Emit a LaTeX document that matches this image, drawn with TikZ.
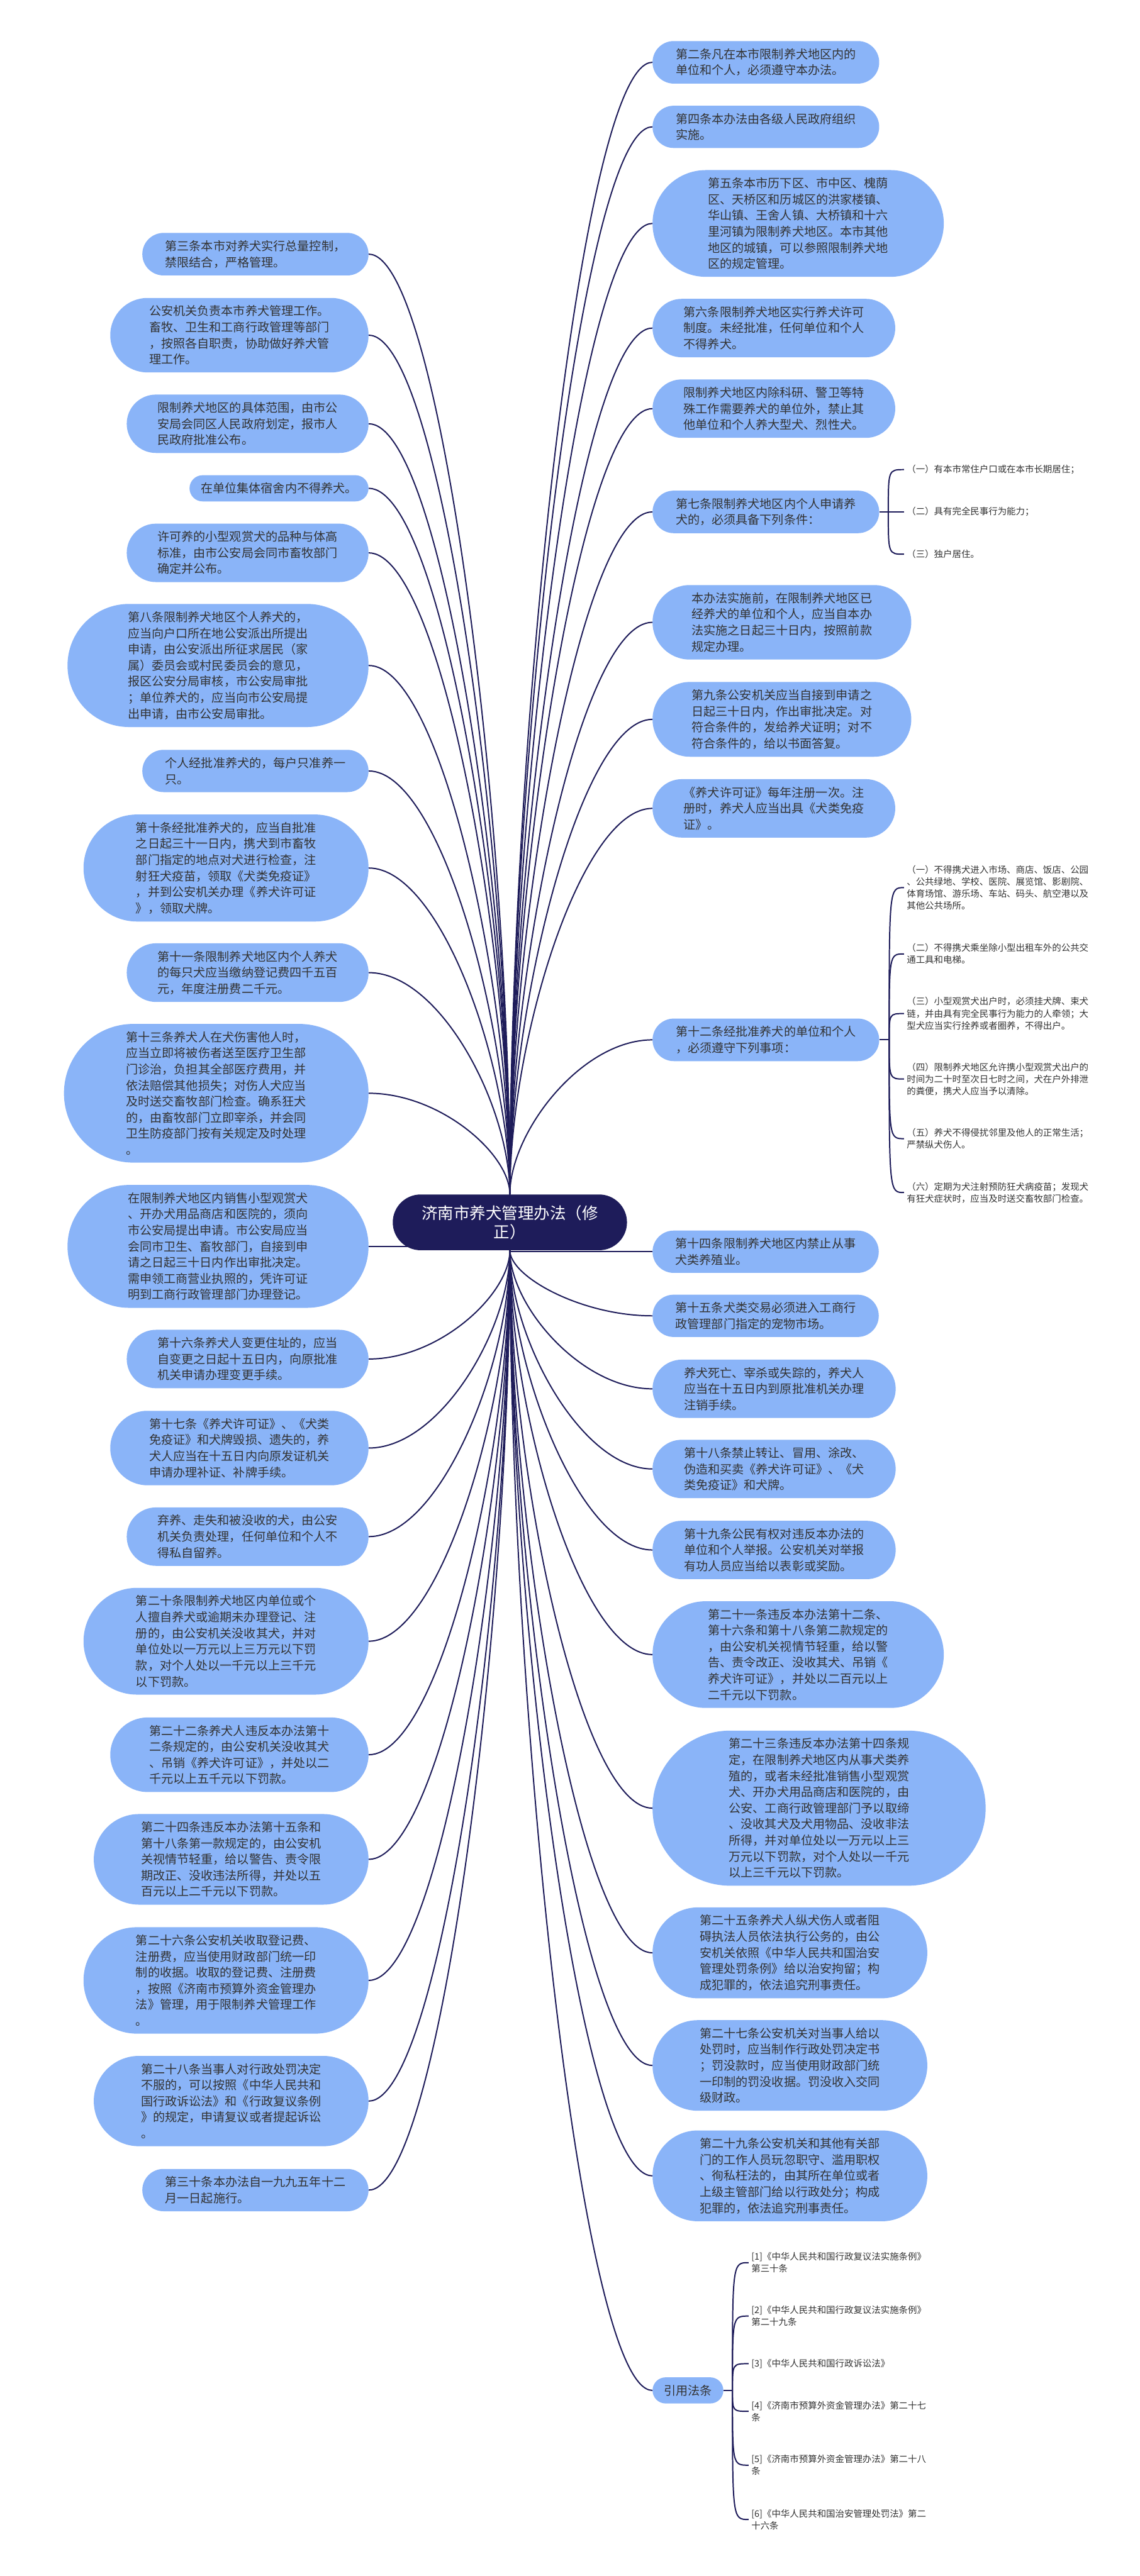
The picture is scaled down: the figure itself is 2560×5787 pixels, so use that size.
\documentclass[tikz,border=0pt]{standalone}
\usepackage{fontspec}
\setmainfont{Noto Sans CJK SC}
\usetikzlibrary{shapes.misc,backgrounds,calc}
\definecolor{navyx}{HTML}{1E1C5A}
\definecolor{leafx}{HTML}{8AB4F8}
\definecolor{inkx}{HTML}{333333}
\tikzset{
  hub/.style={rounded rectangle,fill=navyx,text=white,align=center,font=\fontsize{18}{21.5}\selectfont,inner xsep=6pt,inner ysep=12pt,minimum width=275pt},
  leaf/.style={rounded rectangle,fill=leafx,text=inkx,align=left,font=\fontsize{13.5}{18.1}\selectfont,inner xsep=3pt,inner ysep=8.4pt},
  lf/.style={leaf,anchor=east,minimum width=#1},
  rt/.style={leaf,anchor=west,minimum width=#1},
  clause/.style={anchor=west,align=left,text=inkx,font=\fontsize{10.2}{13.5}\selectfont,inner sep=3pt},
  link/.style={draw=navyx,line width=1.4pt}
}

\begin{document}
\begin{tikzpicture}[x=0.5pt,y=0.5pt]
\useasboundingbox (0,0) rectangle (2560,-5787);

\node[hub] (root) at (1145,-2746) {济南市养犬管理办法（修\\正）};

% left branch
\node[lf=260pt] (l1) at (828,-571) {第三条本市对养犬实行总量控制，\\禁限结合，严格管理。};
\node[lf=296pt] (l2) at (828,-753) {公安机关负责本市养犬管理工作。\\畜牧、卫生和工商行政管理等部门\\，按照各自职责，协助做好养犬管\\理工作。};
\node[lf=277.5pt] (l3) at (828,-952) {限制养犬地区的具体范围，由市公\\安局会同区人民政府划定，报市人\\民政府批准公布。};
\node[lf=207pt] (l4) at (828,-1097) {在单位集体宿舍内不得养犬。};
\node[lf=277.5pt] (l5) at (828,-1242) {许可养的小型观赏犬的品种与体高\\标准，由市公安局会同市畜牧部门\\确定并公布。};
\node[lf=344pt] (l6) at (828,-1495) {第八条限制养犬地区个人养犬的，\\应当向户口所在地公安派出所提出\\申请，由公安派出所征求居民（家\\属）委员会或村民委员会的意见，\\报区公安分局审核，市公安局审批\\；单位养犬的，应当向市公安局提\\出申请，由市公安局审批。};
\node[lf=260pt] (l7) at (828,-1732) {个人经批准养犬的，每户只准养一\\只。};
\node[lf=326pt] (l8) at (828,-1950) {第十条经批准养犬的，应当自批准\\之日起三十一日内，携犬到市畜牧\\部门指定的地点对犬进行检查，注\\射狂犬疫苗，领取《犬类免疫证》\\，并到公安机关办理《养犬许可证\\》，领取犬牌。};
\node[lf=277.5pt] (l9) at (828,-2185) {第十一条限制养犬地区内个人养犬\\的每只犬应当缴纳登记费四千五百\\元，年度注册费二千元。};
\node[lf=348pt] (l10) at (828,-2456) {第十三条养犬人在犬伤害他人时，\\应当立即将被伤者送至医疗卫生部\\门诊治，负担其全部医疗费用，并\\依法赔偿其他损失；对伤人犬应当\\及时送交畜牧部门检查。确系狂犬\\的，由畜牧部门立即宰杀，并会同\\卫生防疫部门按有关规定及时处理\\。};
\node[lf=344pt] (l11) at (828,-2800) {在限制养犬地区内销售小型观赏犬\\、开办犬用品商店和医院的，须向\\市公安局提出申请。市公安局应当\\会同市卫生、畜牧部门，自接到申\\请之日起三十日内作出审批决定。\\需申领工商营业执照的，凭许可证\\明到工商行政管理部门办理登记。};
\node[lf=277.5pt] (l12) at (828,-3053) {第十六条养犬人变更住址的，应当\\自变更之日起十五日内，向原批准\\机关申请办理变更手续。};
\node[lf=296pt] (l13) at (828,-3253) {第十七条《养犬许可证》、《犬类\\免疫证》和犬牌毁损、遗失的，养\\犬人应当在十五日内向原发证机关\\申请办理补证、补牌手续。};
\node[lf=277.5pt] (l14) at (828,-3452) {弃养、走失和被没收的犬，由公安\\机关负责处理，任何单位和个人不\\得私自留养。};
\node[lf=326pt] (l15) at (828,-3687) {第二十条限制养犬地区内单位或个\\人擅自养犬或逾期未办理登记、注\\册的，由公安机关没收其犬，并对\\单位处以一万元以上三万元以下罚\\款，对个人处以一千元以上三千元\\以下罚款。};
\node[lf=296pt] (l16) at (828,-3942) {第二十二条养犬人违反本办法第十\\二条规定的，由公安机关没收其犬\\、吊销《养犬许可证》，并处以二\\千元以上五千元以下罚款。};
\node[lf=314.5pt] (l17) at (828,-4177) {第二十四条违反本办法第十五条和\\第十八条第一款规定的，由公安机\\关视情节轻重，给以警告、责令限\\期改正、没收违法所得，并处以五\\百元以上二千元以下罚款。};
\node[lf=326pt] (l18) at (828,-4449) {第二十六条公安机关收取登记费、\\注册费，应当使用财政部门统一印\\制的收据。收取的登记费、注册费\\，按照《济南市预算外资金管理办\\法》管理，用于限制养犬管理工作\\。};
\node[lf=314.5pt] (l19) at (828,-4720) {第二十八条当事人对行政处罚决定\\不服的，可以按照《中华人民共和\\国行政诉讼法》和《行政复议条例\\》的规定，申请复议或者提起诉讼\\。};
\node[lf=260pt] (l20) at (828,-4920) {第三十条本办法自一九九五年十二\\月一日起施行。};

% right branch
\node[rt=260.5pt] (r1) at (1465,-140) {第二条凡在本市限制养犬地区内的\\单位和个人，必须遵守本办法。};
\node[rt=260.5pt] (r2) at (1465,-285) {第四条本办法由各级人民政府组织\\实施。};
\node[rt=333pt] (r3) at (1465,-502) {第五条本市历下区、市中区、槐荫\\区、天桥区和历城区的洪家楼镇、\\华山镇、王舍人镇、大桥镇和十六\\里河镇为限制养犬地区。本市其他\\地区的城镇，可以参照限制养犬地\\区的规定管理。};
\node[rt=278.5pt] (r4) at (1465,-737) {第六条限制养犬地区实行养犬许可\\制度。未经批准，任何单位和个人\\不得养犬。};
\node[rt=278.5pt] (r5) at (1465,-918) {限制养犬地区内除科研、警卫等特\\殊工作需要养犬的单位外，禁止其\\他单位和个人养大型犬、烈性犬。};
\node[rt=260.5pt] (r6) at (1465,-1150) {第七条限制养犬地区内个人申请养\\犬的，必须具备下列条件：};
\node[rt=296.5pt] (r7) at (1465,-1398) {本办法实施前，在限制养犬地区已\\经养犬的单位和个人，应当自本办\\法实施之日起三十日内，按照前款\\规定办理。};
\node[rt=296.5pt] (r8) at (1465,-1616) {第九条公安机关应当自接到申请之\\日起三十日内，作出审批决定。对\\符合条件的，发给养犬证明；对不\\符合条件的，给以书面答复。};
\node[rt=278.5pt] (r9) at (1465,-1816) {《养犬许可证》每年注册一次。注\\册时，养犬人应当出具《犬类免疫\\证》。};
\node[rt=260.5pt] (r10) at (1465,-2336) {第十二条经批准养犬的单位和个人\\，必须遵守下列事项：};
\node[rt=260pt] (r11) at (1465,-2812) {第十四条限制养犬地区内禁止从事\\犬类养殖业。};
\node[rt=260pt] (r12) at (1465,-2956) {第十五条犬类交易必须进入工商行\\政管理部门指定的宠物市场。};
\node[rt=279pt] (r13) at (1465,-3120) {养犬死亡、宰杀或失踪的，养犬人\\应当在十五日内到原批准机关办理\\注销手续。};
\node[rt=279pt] (r14) at (1465,-3300) {第十八条禁止转让、冒用、涂改、\\伪造和买卖《养犬许可证》、《犬\\类免疫证》和犬牌。};
\node[rt=279pt] (r15) at (1465,-3482) {第十九条公民有权对违反本办法的\\单位和个人举报。公安机关对举报\\有功人员应当给以表彰或奖励。};
\node[rt=333pt] (r16) at (1465,-3717) {第二十一条违反本办法第十二条、\\第十六条和第十八条第二款规定的\\，由公安机关视情节轻重，给以警\\告、责令改正、没收其犬、吊销《\\养犬许可证》，并处以二百元以上\\二千元以下罚款。};
\node[rt=380pt] (r17) at (1465,-4062) {第二十三条违反本办法第十四条规\\定，在限制养犬地区内从事犬类养\\殖的，或者未经批准销售小型观赏\\犬、开办犬用品商店和医院的，由\\公安、工商行政管理部门予以取缔\\、没收其犬及犬用物品、没收非法\\所得，并对单位处以一万元以上三\\万元以下罚款，对个人处以一千元\\以上三千元以下罚款。};
\node[rt=314.5pt] (r18) at (1465,-4387) {第二十五条养犬人纵犬伤人或者阻\\碍执法人员依法执行公务的，由公\\安机关依照《中华人民共和国治安\\管理处罚条例》给以治安拘留；构\\成犯罪的，依法追究刑事责任。};
\node[rt=314.5pt] (r19) at (1465,-4640) {第二十七条公安机关对当事人给以\\处罚时，应当制作行政处罚决定书\\；罚没款时，应当使用财政部门统\\一印制的罚没收据。罚没收入交同\\级财政。};
\node[rt=314.5pt] (r20) at (1465,-4888) {第二十九条公安机关和其他有关部\\门的工作人员玩忽职守、滥用职权\\、徇私枉法的，由其所在单位或者\\上级主管部门给以行政处分；构成\\犯罪的，依法追究刑事责任。};
\node[rt=85.5pt] (r21) at (1465,-5370) {引用法条};

% conditions of art. 7
\node[clause] (r6a) at (2030,-1055) {（一）有本市常住户口或在本市长期居住；};
\node[clause] (r6b) at (2030,-1150) {（二）具有完全民事行为能力；};
\node[clause] (r6c) at (2030,-1245) {（三）独户居住。};

% duties of art. 12
\node[clause] (r10a) at (2030,-1994) {（一）不得携犬进入市场、商店、饭店、公园\\、公共绿地、学校、医院、展览馆、影剧院、\\体育场馆、游乐场、车站、码头、航空港以及\\其他公共场所。};
\node[clause] (r10b) at (2030,-2143) {（二）不得携犬乘坐除小型出租车外的公共交\\通工具和电梯。};
\node[clause] (r10c) at (2030,-2277) {（三）小型观赏犬出户时，必须挂犬牌、束犬\\链，并由具有完全民事行为能力的人牵领；大\\型犬应当实行拴养或者圈养，不得出户。};
\node[clause] (r10d) at (2030,-2424) {（四）限制养犬地区允许携小型观赏犬出户的\\时间为二十时至次日七时之间，犬在户外排泄\\的粪便，携犬人应当予以清除。};
\node[clause] (r10e) at (2030,-2558) {（五）养犬不得侵扰邻里及他人的正常生活；\\严禁纵犬伤人。};
\node[clause] (r10f) at (2030,-2679) {（六）定期为犬注射预防狂犬病疫苗；发现犬\\有狂犬症状时，应当及时送交畜牧部门检查。};

% cited laws
\node[clause] (c1) at (1681,-5083) {[1]《中华人民共和国行政复议法实施条例》\\第三十条};
\node[clause] (c2) at (1681,-5203) {[2]《中华人民共和国行政复议法实施条例》\\第二十九条};
\node[clause] (c3) at (1681,-5310) {[3]《中华人民共和国行政诉讼法》};
\node[clause] (c4) at (1681,-5417) {[4]《济南市预算外资金管理办法》第二十七\\条};
\node[clause] (c5) at (1681,-5538) {[5]《济南市预算外资金管理办法》第二十八\\条};
\node[clause] (c6) at (1681,-5660) {[6]《中华人民共和国治安管理处罚法》第二\\十六条};

\begin{scope}[on background layer]
\fill[white] (0,0) rectangle (2560,-5787);
\foreach \i in {1,...,10} \draw[link] (root.north) .. controls ($(root.north)!0.4!(root.north |- l\i.east)$) and ($(l\i.east)+(160,0)$) .. (l\i.east);
\foreach \i in {12,...,20} \draw[link] (root.south) .. controls ($(root.south)!0.4!(root.south |- l\i.east)$) and ($(l\i.east)+(160,0)$) .. (l\i.east);
\foreach \i in {1,...,10} \draw[link] (root.north) .. controls ($(root.north)!0.4!(root.north |- r\i.west)$) and ($(r\i.west)+(-160,0)$) .. (r\i.west);
\foreach \i in {12,...,21} \draw[link] (root.south) .. controls ($(root.south)!0.4!(root.south |- r\i.west)$) and ($(r\i.west)+(-160,0)$) .. (r\i.west);
\draw[link] (l11.east) -- (l11.east -| root.center);
\draw[link] (r11.west -| root.center) -- (r11.west);
\end{scope}

% brackets
\draw[link] (r6.east) -- ++(20,0) coordinate (j6);
\foreach \s in {r6a,r6b,r6c} \draw[link] (j6) .. controls (j6 |- \s.west) and (j6 |- \s.west) .. (\s.west);
\draw[link] (r10.east) -- ++(22,0) coordinate (j10);
\foreach \s in {r10a,r10b,r10c,r10d,r10e,r10f} \draw[link] (j10) .. controls (j10 |- \s.west) and (j10 |- \s.west) .. (\s.west);
\draw[link] (r21.east) -- ++(20,0) coordinate (j21);
\foreach \s in {c1,c2,c3,c4,c5,c6} \draw[link] (j21) .. controls (j21 |- \s.west) and (j21 |- \s.west) .. (\s.west);
\end{tikzpicture}
\end{document}
